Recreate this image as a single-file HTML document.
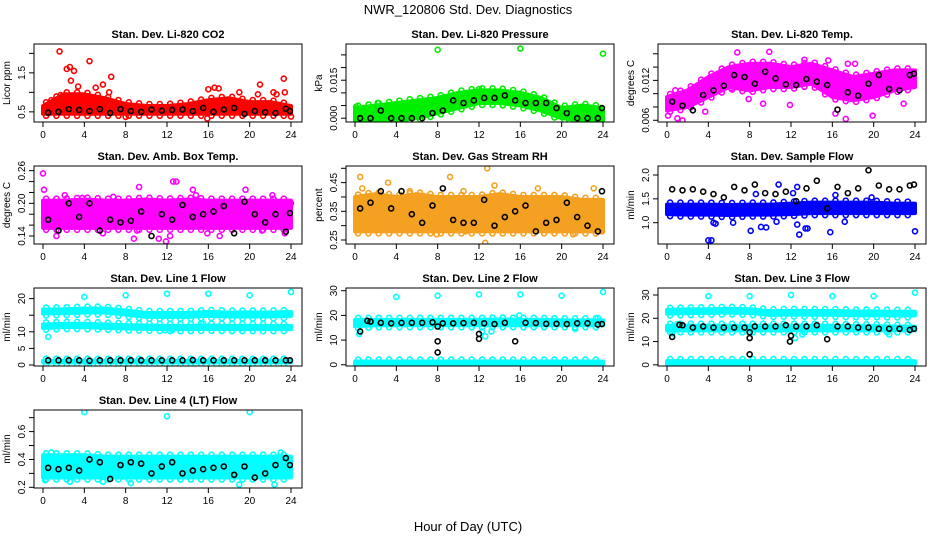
<!DOCTYPE html>
<html><head><meta charset="utf-8">
<style>
body{margin:0;background:#fff}
svg{display:block;font-family:"Liberation Sans",sans-serif}
</style></head>
<body>
<svg id="chart" width="936" height="540" viewBox="0 0 936 540">
<text x="468" y="14" font-size="13" text-anchor="middle">NWR_120806  Std. Dev. Diagnostics</text>
<text x="468" y="531" font-size="13" text-anchor="middle">Hour of Day (UTC)</text>
</svg>
<script>
const xTicks=[0,4,8,12,16,20,24];
const bandHours=[0,2,4,6,8,10,12,14,16,18,20,22,24];
const blackHours=[0.5,1.5,2.5,3.5,4.5,5.5,6.5,7.5,8.5,9.5,10.5,11.5,12.5,13.5,14.5,15.5,16.5,17.5,18.5,19.5,20.5,21.5,22.5,23.5,23.9];

const co2Lo=[0.45,0.45,0.45,0.45,0.45,0.45,0.45,0.45,0.45,0.45,0.45,0.45,0.45];
const co2Hi=[0.65,0.95,0.95,0.85,0.7,0.65,0.65,0.7,0.8,0.85,0.75,0.75,0.65];
const co2Out=[[1.6,2.05],[2.3,1.6],[2.6,1.65],[3.0,1.55],[2.7,1.3],[3.4,1.15],[4.5,1.8],[5.1,1.12],[5.8,1.2],[6.6,1.4],[6.4,1.0],[8.0,0.37],[15.9,0.33],[16.0,1.08],[16.6,1.12],[17.0,1.1],[19.0,1.0],[20.8,0.95],[21.0,1.2],[22.3,1.0],[22.6,0.95],[23.3,1.35],[23.4,1.0],[24.0,0.38],[0.8,0.8],[1.7,0.93]];
const co2Black=[0.48,0.5,0.57,0.55,0.52,0.57,0.47,0.57,0.52,0.5,0.56,0.53,0.55,0.56,0.52,0.6,0.5,0.56,0.6,0.45,0.52,0.49,0.47,0.58,0.52];

const presLo=[-0.001,-0.001,-0.001,0.0,0.002,0.004,0.006,0.006,0.005,0.003,0.0,-0.001,-0.001];
const presHi=[0.004,0.005,0.006,0.007,0.008,0.010,0.011,0.011,0.010,0.008,0.004,0.005,0.004];
const presOut=[[8,0.027],[16,0.0275],[24,0.0255],[12,0.0115],[0.1,0.0045],[2.2,0.006]];
const presBlack=[0.0,0.0,0.003,0.0,0.0,0.0,0.0,0.002,0.003,0.007,0.006,0.007,0.008,0.008,0.009,0.007,0.006,0.006,0.006,0.004,0.002,0.0,0.0,0.0,0.004];

const tempLo=[0.0075,0.008,0.0095,0.011,0.0105,0.011,0.011,0.0115,0.0095,0.009,0.0095,0.0105,0.011];
const tempHi=[0.0095,0.0105,0.0125,0.014,0.0145,0.0145,0.014,0.0145,0.0135,0.0125,0.013,0.0135,0.0135];
const tempOut=[[0.1,0.0067],[1.0,0.0063],[1.5,0.006],[0.8,0.0105],[6.8,0.0162],[9.9,0.0163],[13.3,0.0151],[15.6,0.015],[16.3,0.007],[17.3,0.0062],[17.5,0.0145],[19.9,0.0067],[22.9,0.0085],[7.9,0.0092],[9.3,0.0085],[11.9,0.0083],[6.2,0.0108],[18.2,0.0145],[3.7,0.0073]];
const tempBlack=[0.0088,0.0082,0.0075,0.0098,0.0105,0.0112,0.0128,0.0125,0.0115,0.0133,0.0123,0.0114,0.0113,0.0122,0.0118,0.0113,0.0076,0.0102,0.0097,0.0115,0.0128,0.0107,0.0105,0.0128,0.013];

const ambLo=[0.155,0.155,0.155,0.155,0.155,0.155,0.155,0.155,0.155,0.155,0.155,0.155,0.155];
const ambHi=[0.205,0.205,0.207,0.205,0.205,0.207,0.205,0.207,0.205,0.205,0.205,0.205,0.205];
const ambOut=[[0,0.255],[0.1,0.225],[3.8,0.21],[9.3,0.23],[12.6,0.24],[12.9,0.24],[14.5,0.225],[19.6,0.225],[24,0.2],[1.3,0.14],[5.8,0.145],[8.8,0.135],[9.1,0.15],[11.2,0.135],[11.9,0.13],[12.3,0.14],[15.9,0.145],[17.1,0.14],[21.2,0.15],[23.4,0.145],[2.1,0.215],[22.2,0.215],[14.8,0.215],[6.8,0.212]];
const ambBlack=[0.17,0.15,0.2,0.175,0.2,0.15,0.17,0.165,0.168,0.185,0.14,0.18,0.17,0.197,0.175,0.18,0.185,0.195,0.145,0.203,0.18,0.165,0.18,0.148,0.182];

const rhLo=[0.28,0.28,0.28,0.28,0.28,0.28,0.28,0.28,0.28,0.28,0.28,0.28,0.28];
const rhHi=[0.4,0.41,0.4,0.41,0.4,0.4,0.4,0.41,0.4,0.4,0.4,0.39,0.39];
const rhOut=[[0.5,0.47],[0.7,0.43],[3.2,0.45],[5.3,0.42],[9.2,0.47],[10.5,0.42],[12.8,0.5],[13.5,0.44],[12.6,0.24],[21.1,0.27],[23.1,0.43],[23.9,0.28],[17.7,0.43],[7.9,0.27],[10.7,0.28]];
const rhBlack=[0.36,0.38,0.42,0.36,0.42,0.34,0.31,0.37,0.43,0.32,0.31,0.31,0.39,0.3,0.33,0.35,0.37,0.28,0.31,0.32,0.38,0.33,0.3,0.28,0.42];

const flowLo=[1.18,1.17,1.17,1.16,1.17,1.17,1.18,1.2,1.2,1.2,1.2,1.2,1.2];
const flowHi=[1.38,1.38,1.38,1.37,1.38,1.38,1.4,1.42,1.42,1.42,1.42,1.4,1.4];
const flowOut=[[4.0,0.63],[4.3,0.63],[4.5,1.0],[4.7,0.98],[6.4,1.0],[8.1,0.83],[9.1,0.91],[9.6,0.9],[10.6,1.02],[12.6,0.96],[12.8,0.75],[13.4,0.88],[13.6,0.88],[15.8,0.8],[17.2,1.02],[24,0.82],[12.2,1.62],[12.6,1.75],[8.6,1.6],[10.8,1.8],[16.3,1.58],[19.8,1.53]];
const flowBlack=[1.7,1.68,1.7,1.65,1.6,1.53,1.75,1.68,1.8,1.62,1.6,1.65,1.45,1.72,1.88,1.3,1.75,1.62,1.72,2.1,1.78,1.7,1.7,1.78,1.8];

const l1TopLo=[15.5,15.6,15.8,15.8,15.2,14.5,14.5,14.5,14.8,14.6,14.6,14.6,14.8];
const l1TopHi=[16.7,16.8,17.0,17.0,16.4,15.7,15.7,15.7,16.0,15.8,15.8,15.8,16.0];
const l1MidLo=[11.2,11.4,11.4,11.2,11.0,10.9,10.8,10.8,10.9,10.8,10.8,10.8,10.8];
const l1MidHi=[12.2,12.4,12.4,12.2,12.0,11.9,11.8,11.8,11.9,11.8,11.8,11.8,11.8];
const l1BotLo=[0.8,0.8,0.8,0.8,0.8,0.8,0.8,0.8,0.8,0.8,0.8,0.8,0.8];
const l1BotHi=[1.3,1.3,1.3,1.3,1.3,1.3,1.3,1.3,1.3,1.3,1.3,1.3,1.3];
const l1Out=[[4,20.5],[8,21],[12,21.5],[16,21.5],[20,21],[24,22],[0.5,8.5],[11.8,10.5],[12.5,10.5],[15.5,12.5],[4.5,0.5]];
const l1Black=[1.4,1.4,1.4,1.4,1.3,1.4,1.4,1.4,1.4,1.4,1.4,1.4,1.4,1.4,1.5,1.4,1.4,1.4,1.4,1.4,1.4,1.4,1.4,1.4,1.4];

const l2TopLo=[15.6,16.0,16.0,16.0,16.0,16.0,16.0,16.0,16.0,16.0,16.0,16.0,16.0];
const l2TopHi=[18.2,18.2,18.2,18.2,18.2,18.2,18.2,18.4,18.2,18.2,18.0,18.0,18.0];
const l2BotLo=[0.2,0.2,0.2,0.2,0.2,0.2,0.2,0.2,0.2,0.2,0.2,0.2,0.2];
const l2BotHi=[1.3,1.3,1.3,1.3,1.3,1.3,1.3,1.3,1.3,1.3,1.3,1.3,1.3];
const l2Out=[[4,27.5],[8,28],[12,28.5],[16,28.5],[20,28],[24,29.5],[0.4,12.5],[12.3,13.5],[12.6,11.5],[13.2,13.5],[15.9,20],[2.3,19],[21.3,14.5],[23.5,19]];
const l2Black=[13.5,17.5,17.0,16.8,17.0,17.0,17.0,17.2,16.8,16.8,16.9,17.0,16.8,16.5,17.0,9.5,17.0,16.9,16.6,16.6,16.5,16.8,16.8,16.3,16.5];
const l2BlackExtra=[[8,15.5],[8,9.5],[8,5],[12,12.5],[12,10.5],[1.2,17.8]];

const l3TopLo=[22.0,22.2,22.3,22.5,22.3,21.4,21.6,21.5,21.5,21.3,21.3,21.2,21.2];
const l3TopHi=[23.6,23.8,23.9,24.1,23.9,23.0,23.2,23.1,23.1,22.9,22.9,22.8,22.8];
const l3MidLo=[14.8,14.8,14.8,14.8,14.8,14.8,14.8,14.8,14.8,14.8,14.8,14.8,14.8];
const l3MidHi=[16.8,16.8,16.8,16.8,16.8,16.8,16.8,16.8,16.8,16.6,16.6,16.4,16.4];
const l3BotLo=[0.3,0.3,0.3,0.3,0.3,0.3,0.3,0.3,0.3,0.3,0.3,0.3,0.3];
const l3BotHi=[1.6,1.6,1.6,1.6,1.6,1.6,1.6,1.6,1.6,1.6,1.6,1.6,1.6];
const l3Out=[[4,29.5],[8,29.5],[12,30],[16,29.5],[20,29.5],[24,31],[0.3,16],[0.5,13.5],[12.4,11.5],[13.1,13],[21.5,13],[1.0,17.5]];
const l3Black=[12.0,17.0,16.0,16.5,16.0,16.0,16.0,16.0,16.5,16.5,16.5,17.0,16.5,16.5,17.0,11.0,16.5,16.5,16.0,16.0,15.5,15.5,15.5,15.0,15.5];
const l3BlackExtra=[[8,14],[8,11.5],[8,4.5],[12,12.5],[11.9,10],[1.2,17.2]];

const ltLo=[0.27,0.27,0.27,0.27,0.27,0.27,0.27,0.27,0.27,0.27,0.27,0.27,0.27];
const ltHi=[0.43,0.43,0.43,0.42,0.42,0.42,0.42,0.42,0.42,0.42,0.42,0.42,0.42];
const ltOut=[[4,0.74],[12,0.71],[20,0.74],[0.2,0.25],[8.5,0.23],[19,0.22],[22.4,0.22],[2.6,0.24],[23,0.45],[0.8,0.45],[5.8,0.24]];
const ltBlack=[0.34,0.33,0.34,0.32,0.4,0.38,0.26,0.36,0.38,0.37,0.3,0.35,0.38,0.3,0.32,0.33,0.34,0.35,0.29,0.35,0.27,0.3,0.36,0.41,0.36];

const NS='http://www.w3.org/2000/svg';
const svg=document.getElementById('chart');
function mk(tag,attrs,parent){const e=document.createElementNS(NS,tag);for(const k in attrs)e.setAttribute(k,attrs[k]);(parent||svg).appendChild(e);return e;}
function interp(arr,h){const i=Math.min(Math.floor(h/2),bandHours.length-2);const f=(h-bandHours[i])/2;return arr[i]+(arr[i+1]-arr[i])*f;}

function panel(p){
  const L=p.left,T=p.top,W=268,H=78;
  const g=mk('g',{});
  
  
  const xs=h=>L+9+h*(248/24);
  const ys=v=>T+H-(v-p.ymin)/(p.ymax-p.ymin)*H;
  const cp=mk('clipPath',{id:'c'+p.name},g);
  mk('rect',{x:L,y:T,width:W,height:H},cp);
  const pg=mk('g',{'clip-path':'url(#c'+p.name+')'},g);
  p.bands.forEach((b,bi)=>{
    let pts=bandHours.map((h,i)=>xs(h)+','+ys(b[1][i]));
    pts=pts.concat(bandHours.slice().reverse().map((h,i)=>xs(h)+','+ys(b[0][bandHours.length-1-i])));
    const poly=mk('polygon',{points:pts.join(' '),fill:p.color,stroke:p.color,'stroke-width':4,'stroke-linejoin':'round'},pg);
    
    
    for(let h=0.3;h<24;h+=1.0){
      [1,0].forEach(k=>{
        const c=mk('circle',{cx:xs(h),cy:ys(interp(b[k],h))+(k?-2:2),r:2.5,fill:'none',stroke:p.color,'stroke-width':1.6},pg);
        
        
      });
    }
  });
  p.out.forEach(d=>{
    const c=mk('circle',{cx:xs(d[0]),cy:ys(d[1]),r:2.5,fill:'none',stroke:p.color,'stroke-width':1.6},pg);
    
    
  });
  const blk=p.black.map((v,i)=>[blackHours[i],v]).concat(p.extra||[]);
  blk.forEach(d=>{
    const c=mk('circle',{cx:xs(d[0]),cy:ys(d[1]),r:2.5,fill:'none',stroke:'#000','stroke-width':1.6},pg);
    
    
  });
  const box=mk('rect',{x:L,y:T,width:W,height:H,fill:'none',stroke:'#000','stroke-width':1},g);
  
  
  const t=mk('text',{x:L+W/2,y:T-6,'font-size':11,'font-weight':'bold','text-anchor':'middle'},g);
  t.textContent=p.title;
  
  
  mk('line',{x1:xs(0),x2:xs(24),y1:T+H,y2:T+H,stroke:'#000'},g);
  xTicks.forEach(h=>{
    mk('line',{x1:xs(h),x2:xs(h),y1:T+H,y2:T+H+5,stroke:'#000'},g);
    const tx=mk('text',{x:xs(h),y:T+H+16,'font-size':10,'text-anchor':'middle'},g);
    tx.textContent=h;
    
    
  });
  const yt0=p.yticks[0],yt1=p.yticks[p.yticks.length-1];
  mk('line',{x1:L,x2:L,y1:ys(yt0),y2:ys(yt1),stroke:'#000'},g);
  p.yticks.forEach(v=>{mk('line',{x1:L-5,x2:L,y1:ys(v),y2:ys(v),stroke:'#000'},g);});
  p.ylabels.forEach((lab,i)=>{
    const yy=ys(p.ylabelVals[i]);
    const tx=mk('text',{x:L-9,y:yy,'font-size':10,'text-anchor':'middle',transform:'rotate(-90 '+(L-9)+' '+yy+')'},g);
    tx.textContent=lab;
    
    
  });
  const yc=T+H/2;
  const yl=mk('text',{x:L-24,y:yc,'font-size':10,'text-anchor':'middle',transform:'rotate(-90 '+(L-24)+' '+yc+')'},g);
  yl.textContent=p.ylab;
  
  
}
const C=[34,346,658],R=[44,166,288,410];
panel({name:'co2',title:'Stan. Dev. Li-820 CO2',left:C[0],top:R[0],ymin:0.24,ymax:2.24,color:'#ff0000',bands:[[co2Lo,co2Hi]],out:co2Out,black:co2Black,yticks:[0.5,1,1.5,2],ylabels:['0.5','1.5'],ylabelVals:[0.5,1.5],ylab:'Licor ppm'});
panel({name:'pressure',title:'Stan. Dev. Li-820 Pressure',left:C[1],top:R[0],ymin:-0.0015,ymax:0.0293,color:'#00ee00',bands:[[presLo,presHi]],out:presOut,black:presBlack,yticks:[0,0.005,0.01,0.015,0.02,0.025],ylabels:['0.000','0.015'],ylabelVals:[0,0.015],ylab:'kPa'});
panel({name:'li820-temp',title:'Stan. Dev. Li-820 Temp.',left:C[2],top:R[0],ymin:0.00574,ymax:0.01747,color:'#ff00ff',bands:[[tempLo,tempHi]],out:tempOut,black:tempBlack,yticks:[0.006,0.008,0.01,0.012,0.014,0.016],ylabels:['0.006','0.012'],ylabelVals:[0.006,0.012],ylab:'degrees C'});
panel({name:'amb-box-temp',title:'Stan. Dev. Amb. Box Temp.',left:C[0],top:R[1],ymin:0.1253,ymax:0.2686,color:'#ff00ff',bands:[[ambLo,ambHi]],out:ambOut,black:ambBlack,yticks:[0.14,0.16,0.18,0.2,0.22,0.24,0.26],ylabels:['0.14','0.20','0.26'],ylabelVals:[0.14,0.2,0.26],ylab:'degrees C'});
panel({name:'gas-rh',title:'Stan. Dev. Gas Stream RH',left:C[1],top:R[1],ymin:0.236,ymax:0.508,color:'#f4a020',bands:[[rhLo,rhHi]],out:rhOut,black:rhBlack,yticks:[0.25,0.3,0.35,0.4,0.45,0.5],ylabels:['0.25','0.35','0.45'],ylabelVals:[0.25,0.35,0.45],ylab:'percent'});
panel({name:'sample-flow',title:'Stan. Dev. Sample Flow',left:C[2],top:R[1],ymin:0.553,ymax:2.189,color:'#0000ff',bands:[[flowLo,flowHi]],out:flowOut,black:flowBlack,yticks:[1,1.5,2],ylabels:['1.0','1.5','2.0'],ylabelVals:[1,1.5,2],ylab:'ml/min'});
panel({name:'line1-flow',title:'Stan. Dev. Line 1 Flow',left:C[0],top:R[2],ymin:-0.3,ymax:23.2,color:'#00ffff',bands:[[l1TopLo,l1TopHi],[l1MidLo,l1MidHi],[l1BotLo,l1BotHi]],out:l1Out,black:l1Black,yticks:[0,5,10,15,20],ylabels:['0','5','10','20'],ylabelVals:[0,5,10,20],ylab:'ml/min'});
panel({name:'line2-flow',title:'Stan. Dev. Line 2 Flow',left:C[1],top:R[2],ymin:-0.5,ymax:31.1,color:'#00ffff',bands:[[l2TopLo,l2TopHi],[l2BotLo,l2BotHi]],out:l2Out,black:l2Black,extra:l2BlackExtra,yticks:[0,10,20,30],ylabels:['0','10','20','30'],ylabelVals:[0,10,20,30],ylab:'ml/min'});
panel({name:'line3-flow',title:'Stan. Dev. Line 3 Flow',left:C[2],top:R[2],ymin:-0.5,ymax:33,color:'#00ffff',bands:[[l3TopLo,l3TopHi],[l3MidLo,l3MidHi],[l3BotLo,l3BotHi]],out:l3Out,black:l3Black,extra:l3BlackExtra,yticks:[0,10,20,30],ylabels:['0','10','20','30'],ylabelVals:[0,10,20,30],ylab:'ml/min'});
panel({name:'line4-flow',title:'Stan. Dev. Line 4 (LT) Flow',left:C[0],top:R[3],ymin:0.195,ymax:0.755,color:'#00ffff',bands:[[ltLo,ltHi]],out:ltOut,black:ltBlack,yticks:[0.2,0.3,0.4,0.5,0.6,0.7],ylabels:['0.2','0.4','0.6'],ylabelVals:[0.2,0.4,0.6],ylab:'ml/min'});
</script>
</body></html>
